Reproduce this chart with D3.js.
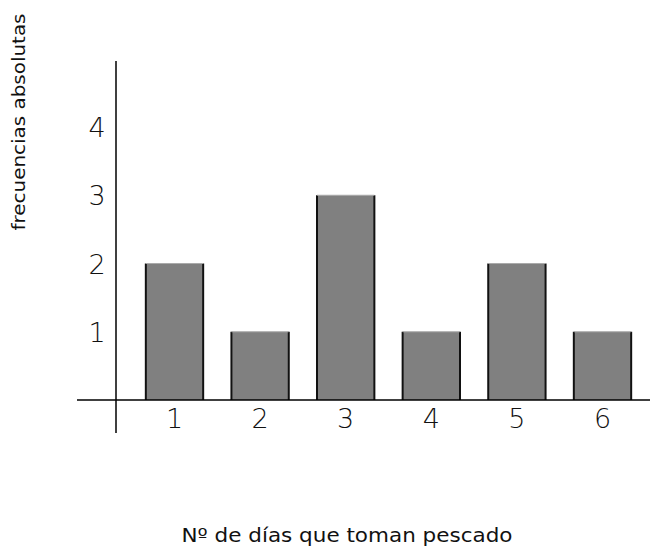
<!DOCTYPE html>
<html>
<head>
<meta charset="utf-8">
<script src="https://cdn.jsdelivr.net/npm/d3@7"></script>
<style>
  body { margin: 0; background: #fff; }
  svg { display: block; }
  .tick-label { font-family: "DejaVu Sans", sans-serif; font-weight: 200; font-size: 27px; fill: #111; }
  .axis-title { font-family: "DejaVu Sans", sans-serif; fill: #111; }
</style>
</head>
<body>
<svg width="650" height="551"></svg>
<script>
// datos del diagrama de barras
var categories = [1, 2, 3, 4, 5, 6];
var frequencies = [2, 1, 3, 1, 2, 1];
var y_ticks = [1, 2, 3, 4];
var x_title = 'Nº de días que toman pescado';
var y_title = 'frecuencias absolutas';

var svg = d3.select('svg');

var x = d3.scaleBand()
  .domain(categories)
  .range([131.7, 645.3])
  .paddingInner(0.33)
  .paddingOuter(0.165);

var y = d3.scaleLinear()
  .domain([0, 4])
  .range([400, 127]);

// bars
var bars = svg.append('g').selectAll('.bar')
  .data(categories.map((c, i) => ({cat: c, val: frequencies[i]})))
  .enter().append('g')
  .attr('class', 'bar');

bars.append('rect')
  .attr('x', d => x(d.cat))
  .attr('y', d => y(d.val))
  .attr('width', x.bandwidth())
  .attr('height', d => y(0) - y(d.val))
  .style('fill', '#808080');

// dark side edges, lighter top
bars.append('line')
  .attr('x1', d => x(d.cat)).attr('x2', d => x(d.cat))
  .attr('y1', d => y(d.val)).attr('y2', y(0))
  .style('stroke', '#111').style('stroke-width', 2);
bars.append('line')
  .attr('x1', d => x(d.cat) + x.bandwidth()).attr('x2', d => x(d.cat) + x.bandwidth())
  .attr('y1', d => y(d.val)).attr('y2', y(0))
  .style('stroke', '#111').style('stroke-width', 2);
bars.append('line')
  .attr('x1', d => x(d.cat)).attr('x2', d => x(d.cat) + x.bandwidth())
  .attr('y1', d => y(d.val)).attr('y2', d => y(d.val))
  .style('stroke', '#aaa').style('stroke-width', 1.2);

// axes lines
svg.append('line')
  .attr('x1', 77).attr('x2', 650)
  .attr('y1', y(0)).attr('y2', y(0))
  .style('stroke', '#000').style('stroke-width', 1.5);
svg.append('line')
  .attr('x1', 116).attr('x2', 116)
  .attr('y1', 61).attr('y2', 433)
  .style('stroke', '#000').style('stroke-width', 1.5);

// tick labels
svg.append('g').selectAll('text')
  .data(categories)
  .enter().append('text')
  .attr('class', 'tick-label')
  .attr('x', d => x(d) + x.bandwidth() / 2)
  .attr('y', 428)
  .attr('text-anchor', 'middle')
  .text(d => d);

svg.append('g').selectAll('text')
  .data(y_ticks)
  .enter().append('text')
  .attr('class', 'tick-label')
  .attr('x', 97)
  .attr('y', d => y(d) + 10)
  .attr('text-anchor', 'middle')
  .text(d => d);

// titles
svg.append('text')
  .attr('class', 'axis-title')
  .attr('x', 347)
  .attr('y', 542)
  .attr('text-anchor', 'middle')
  .attr('textLength', 331)
  .attr('lengthAdjust', 'spacingAndGlyphs')
  .style('font-size', '19px')
  .text(x_title);

svg.append('text')
  .attr('class', 'axis-title')
  .attr('transform', 'translate(25,122)rotate(-90)')
  .attr('text-anchor', 'middle')
  .attr('textLength', 217)
  .attr('lengthAdjust', 'spacingAndGlyphs')
  .style('font-size', '17px')
  .text(y_title);
</script>
</body>
</html>
